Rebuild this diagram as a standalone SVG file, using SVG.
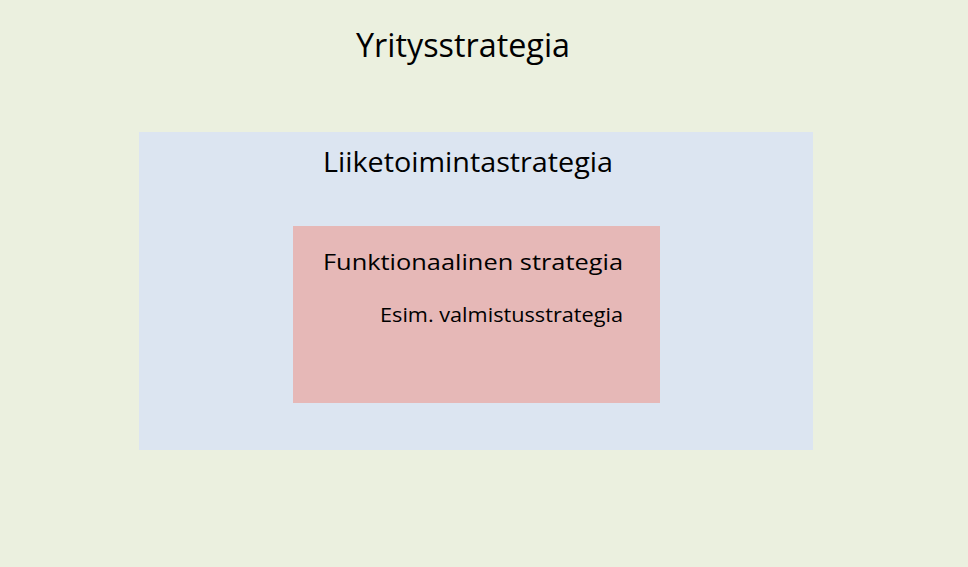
<svg xmlns="http://www.w3.org/2000/svg" width="968" height="567" viewBox="0 0 968 567">
<style>
text{font-family:"Open Sans","Liberation Sans",sans-serif;fill:#000;}
</style>
<rect width="968" height="567" fill="#EBF0DF"/>
<g id="yritysstrategia">
<text x="356" y="57" font-size="32" textLength="214" lengthAdjust="spacingAndGlyphs">Yritysstrategia</text>
</g>
<g id="liiketoimintastrategia">
<rect x="139" y="132" width="674" height="318" fill="#DCE5F1"/>
<text x="323" y="172" font-size="28" textLength="290" lengthAdjust="spacingAndGlyphs">Liiketoimintastrategia</text>
</g>
<g id="funktionaalinen">
<rect x="293" y="226" width="367" height="177" fill="#E6B8B7"/>
<text x="323" y="270" font-size="22" textLength="300" lengthAdjust="spacingAndGlyphs">Funktionaalinen strategia</text>
<text x="380" y="322" font-size="20" textLength="243" lengthAdjust="spacingAndGlyphs">Esim. valmistusstrategia</text>
</g>
<g id="connectors"/>
</svg>
